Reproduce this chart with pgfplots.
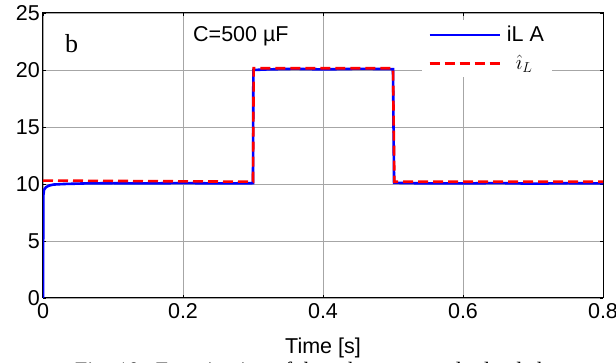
\documentclass[border=0pt]{standalone}
\usepackage{pgfplots}
\pgfplotsset{compat=1.18}
\usepackage{fontspec}
\setmainfont{Liberation Sans}
\newfontfamily\serif{Liberation Serif}
\begin{document}
\begin{tikzpicture}
\useasboundingbox (-43pt,-65pt) rectangle (573pt,298pt);
\begin{axis}[
  at={(0pt,0pt)}, anchor=south west,
  scale only axis, width=560pt, height=285pt,
  xmin=0, xmax=0.8, ymin=0, ymax=25,
  xtick={0,0.2,0.4,0.6,0.8}, ytick={0,5,10,15,20,25},
  xticklabels={0,0.2,0.4,0.6,0.8},
  /pgf/number format/assume math mode=true,
  tick label style={font=\fontsize{21.5}{24}\selectfont},
  yticklabel style={inner sep=3pt},
  xticklabel style={inner sep=2pt, yshift=-3pt},
  xlabel={Time [s]},
  xlabel style={font=\fontsize{21.5}{24}\selectfont, at={(axis description cs:0.5,0)}, anchor=base, yshift=-56pt},
  grid=major, major grid style={gray!70, line width=0.8pt},
  tick align=inside, major tick length=3pt,
  tick style={black, line width=0.8pt},
  axis line style={black, line width=1pt},
  legend style={at={(0.677,0.975)}, anchor=north west, draw=none, fill=white,
    font=\fontsize{21.5}{24}\selectfont, inner xsep=6pt, inner ysep=4pt,
    row sep=8pt, cells={anchor=west}},
  legend image code/.code={\draw[#1] (0pt,0pt) -- (70pt,0pt); \path (74pt,0pt);},
]
\addplot[blue, line width=2.6pt] coordinates {
(0,0) (0.0005,9.0) (0.0015,9.5) (0.004,9.7) (0.008,9.85) (0.015,9.95) (0.03,10.0)
(0.06,10.05) (0.1,10.07) (0.15,10.05) (0.2,10.08) (0.25,10.05) (0.3,10.07)
(0.3005,20.0) (0.32,20.05) (0.36,20.1) (0.4,20.05) (0.45,20.1) (0.5,20.08)
(0.5015,10.1) (0.52,10.08) (0.55,10.05) (0.6,10.05) (0.65,10.08) (0.7,10.03) (0.75,10.07) (0.8,10.05)
};
\addlegendentry{iL A}
\addplot[red, line width=2.6pt, dash pattern=on 10pt off 5pt] coordinates {
(0,10.3) (0.3,10.2) (0.301,20.15) (0.5,20.15) (0.502,10.2) (0.8,10.2)
};
\addlegendentry{\hspace{9pt}$\hat{\imath}_L$}
\end{axis}
\node[font=\serif\fontsize{26}{28}\selectfont, anchor=base west, inner sep=0pt] at (22pt,245pt) {b};
\node[font=\fontsize{21.5}{24}\selectfont, anchor=base west, inner sep=0pt] at (150pt,256pt) {C=500 µF};
\begin{scope}
\clip (-43pt,-65pt) rectangle (573pt,298pt);
\node[font=\serif\fontsize{22}{24}\selectfont, anchor=base west, inner sep=0pt] at (32pt,-80pt) {Fig. 10.\ \ Examination of the robustness under load changes};
\end{scope}
\end{tikzpicture}
\end{document}
